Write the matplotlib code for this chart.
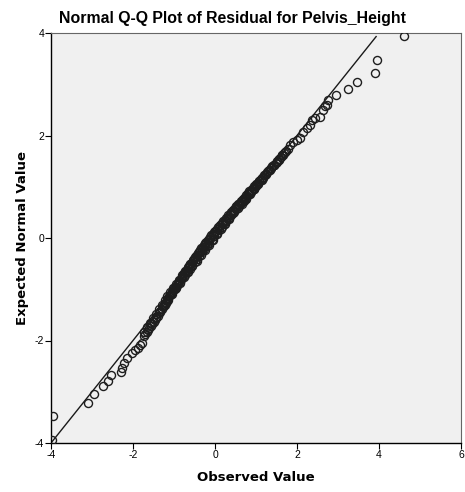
import matplotlib
matplotlib.use("Agg")
import matplotlib.pyplot as plt

# observed residuals (x) and expected normal values (y)
tail_lo_x = [-3.98, -3.95, -3.10, -2.95, -2.73, -2.61, -2.54, -2.29, -2.27, -2.22, -2.15, -2.02, -1.95, -1.88, -1.82, -1.78]
tail_lo_y = [-3.94, -3.47, -3.22, -3.04, -2.89, -2.79, -2.67, -2.61, -2.54, -2.44, -2.34, -2.24, -2.19, -2.15, -2.09, -2.05]

mid_x = [-1.74, -1.70, -1.67, -1.63, -1.60, -1.57, -1.53, -1.50, -1.46, -1.43, -1.40, -1.36,
         -1.33, -1.30, -1.26, -1.23, -1.20, -1.17, -1.14, -1.11, -1.08, -1.05, -1.02, -0.99,
         -0.96, -0.93, -0.90, -0.87, -0.84, -0.81, -0.78, -0.75, -0.72, -0.69, -0.66, -0.63,
         -0.60, -0.57, -0.54, -0.51, -0.48, -0.45, -0.42, -0.39, -0.36, -0.33, -0.30, -0.27,
         -0.24, -0.21, -0.18, -0.15, -0.12, -0.09, -0.06, -0.03, 0.00, 0.04, 0.08, 0.12,
         0.16, 0.20, 0.24, 0.28, 0.32, 0.36, 0.40, 0.44, 0.48, 0.52, 0.56, 0.60,
         0.64, 0.68, 0.72, 0.76, 0.80, 0.84, 0.88, 0.92, 0.96, 1.00, 1.04, 1.08,
         1.12, 1.16, 1.20, 1.24, 1.28, 1.32, 1.36, 1.40, 1.44, 1.48, 1.52, 1.56,
         1.60, 1.64, 1.68, 1.72, 1.77]
mid_y = [-1.92, -1.88, -1.84, -1.80, -1.76, -1.72, -1.68, -1.64, -1.60, -1.56, -1.52, -1.47,
         -1.43, -1.39, -1.34, -1.30, -1.26, -1.22, -1.18, -1.14, -1.10, -1.06, -1.02, -0.98,
         -0.95, -0.91, -0.87, -0.84, -0.80, -0.76, -0.73, -0.69, -0.66, -0.62, -0.58, -0.55,
         -0.51, -0.48, -0.44, -0.41, -0.37, -0.34, -0.30, -0.27, -0.23, -0.20, -0.17, -0.13,
         -0.10, -0.07, -0.04, -0.01, 0.02, 0.05, 0.08, 0.11, 0.14, 0.18, 0.22, 0.25,
         0.29, 0.33, 0.36, 0.40, 0.44, 0.47, 0.51, 0.55, 0.58, 0.62, 0.66, 0.69,
         0.73, 0.76, 0.80, 0.84, 0.87, 0.91, 0.94, 0.98, 1.01, 1.05, 1.08, 1.11,
         1.15, 1.18, 1.22, 1.25, 1.29, 1.32, 1.36, 1.40, 1.43, 1.47, 1.51, 1.55,
         1.58, 1.62, 1.66, 1.70, 1.74]

# further residuals in the dense band
mid2_x = [-1.72, -1.65, -1.58, -1.51, -1.44, -1.37, -1.30, -1.23, -1.16, -1.09, -1.02, -0.95,
          -0.88, -0.81, -0.74, -0.67, -0.60, -0.53, -0.46, -0.39, -0.32, -0.25, -0.18, -0.11,
          -0.04, 0.03, 0.10, 0.17, 0.24, 0.31, 0.38, 0.45, 0.52, 0.59, 0.66, 0.73,
          0.80, 0.87, 0.94, 1.01, 1.08, 1.15, 1.22, 1.29, 1.36, 1.43, 1.50, 1.57, 1.64, 1.71]
mid2_y = [-1.84, -1.74, -1.66, -1.57, -1.48, -1.38, -1.30, -1.21, -1.13, -1.05, -0.97, -0.90,
          -0.81, -0.73, -0.65, -0.57, -0.50, -0.43, -0.36, -0.28, -0.22, -0.15, -0.08, -0.01,
          0.06, 0.13, 0.20, 0.27, 0.33, 0.40, 0.47, 0.53, 0.60, 0.66, 0.72, 0.79,
          0.85, 0.92, 0.98, 1.04, 1.11, 1.17, 1.23, 1.30, 1.36, 1.43, 1.49, 1.55, 1.61, 1.67]
mid3_x = [-1.55, -1.45, -1.35, -1.25, -1.15, -1.05, -0.95, -0.85, -0.75, -0.65, -0.55, -0.45,
          -0.35, -0.25, -0.15, -0.05, 0.05, 0.15, 0.25, 0.35, 0.45, 0.55, 0.65, 0.75,
          0.85, 0.95, 1.05, 1.15, 1.25, 1.35, 1.45, 1.55, 1.65]
mid3_y = [-1.66, -1.55, -1.44, -1.31, -1.20, -1.09, -0.98, -0.87, -0.77, -0.66, -0.55, -0.44,
          -0.34, -0.24, -0.13, -0.03, 0.08, 0.18, 0.28, 0.38, 0.48, 0.58, 0.67, 0.77,
          0.86, 0.96, 1.05, 1.14, 1.24, 1.33, 1.42, 1.52, 1.61]
mid4_x = [-1.28, -1.22, -1.16, -1.10, -1.04, -0.98, -0.92, -0.86, -0.80, -0.74, -0.68, -0.62,
          -0.56, -0.50, -0.44, -0.38, -0.32, -0.26, -0.20, -0.14, -0.08, -0.02, 0.04, 0.10,
          0.16, 0.22, 0.28, 0.34, 0.40, 0.46, 0.52, 0.58, 0.64, 0.70, 0.76, 0.82,
          0.88, 0.94, 1.00, 1.06, 1.12, 1.18]
mid4_y = [-1.33, -1.26, -1.19, -1.12, -1.05, -0.99, -0.92, -0.85, -0.79, -0.72, -0.66, -0.60,
          -0.53, -0.47, -0.41, -0.35, -0.28, -0.22, -0.16, -0.10, -0.03, 0.03, 0.09, 0.15,
          0.21, 0.27, 0.33, 0.39, 0.45, 0.50, 0.56, 0.62, 0.68, 0.73, 0.79, 0.85,
          0.90, 0.96, 1.02, 1.07, 1.13, 1.19]

tail_hi_x = [1.83, 1.90, 2.00, 2.07, 2.15, 2.24, 2.32, 2.37, 2.45, 2.56, 2.63, 2.68, 2.73, 2.76,
             2.95, 3.24, 3.46, 3.90, 3.95, 4.61]
tail_hi_y = [1.81, 1.87, 1.92, 1.95, 2.07, 2.15, 2.20, 2.30, 2.34, 2.36, 2.50, 2.58, 2.60, 2.69,
             2.79, 2.91, 3.04, 3.22, 3.47, 3.94]

ref_line = [-4.0, 3.93]

obs = tail_lo_x + mid_x + mid2_x + mid3_x + mid4_x + tail_hi_x
exp = tail_lo_y + mid_y + mid2_y + mid3_y + mid4_y + tail_hi_y

plt.rcParams["font.family"] = ["Liberation Sans", "DejaVu Sans"]
plt.rcParams["axes.unicode_minus"] = False

fig = plt.figure(figsize=(4.65, 4.92), dpi=100)
ax = fig.add_axes([51 / 465, 1 - 443 / 492, 410 / 465, 410 / 492])
ax.set_facecolor("#f0f0f0")

ax.plot(ref_line, ref_line, color="#1a1a1a", lw=1.0, zorder=2)
ax.plot(obs, exp, ls="none", marker="o", ms=5.8, mfc="none", mec="#1e1e1e", mew=1.0, zorder=3)

ax.set_xlim(-4, 6)
ax.set_ylim(-4, 4)
ax.set_xticks([-4, -2, 0, 2, 4, 6])
ax.set_yticks([-4, -2, 0, 2, 4])
ax.tick_params(direction="out", length=4, width=0.8, labelsize=7.5, pad=1)
for side in ("left", "bottom"):
    ax.spines[side].set_color("black")
    ax.spines[side].set_linewidth(1.0)
for side in ("top", "right"):
    ax.spines[side].set_color("#666666")
    ax.spines[side].set_linewidth(0.8)

fig.text(0.5, 1 - 18 / 492, "Normal Q-Q Plot of Residual for Pelvis_Height",
         ha="center", va="center", fontsize=11.4, fontweight="bold")
ax.set_xlabel("Observed Value", fontsize=9.5, fontweight="bold", family="DejaVu Sans", labelpad=8)
ax.set_ylabel("Expected Normal Value", fontsize=9.5, fontweight="bold", family="DejaVu Sans", labelpad=4)

fig.savefig("out.png", dpi=100)
